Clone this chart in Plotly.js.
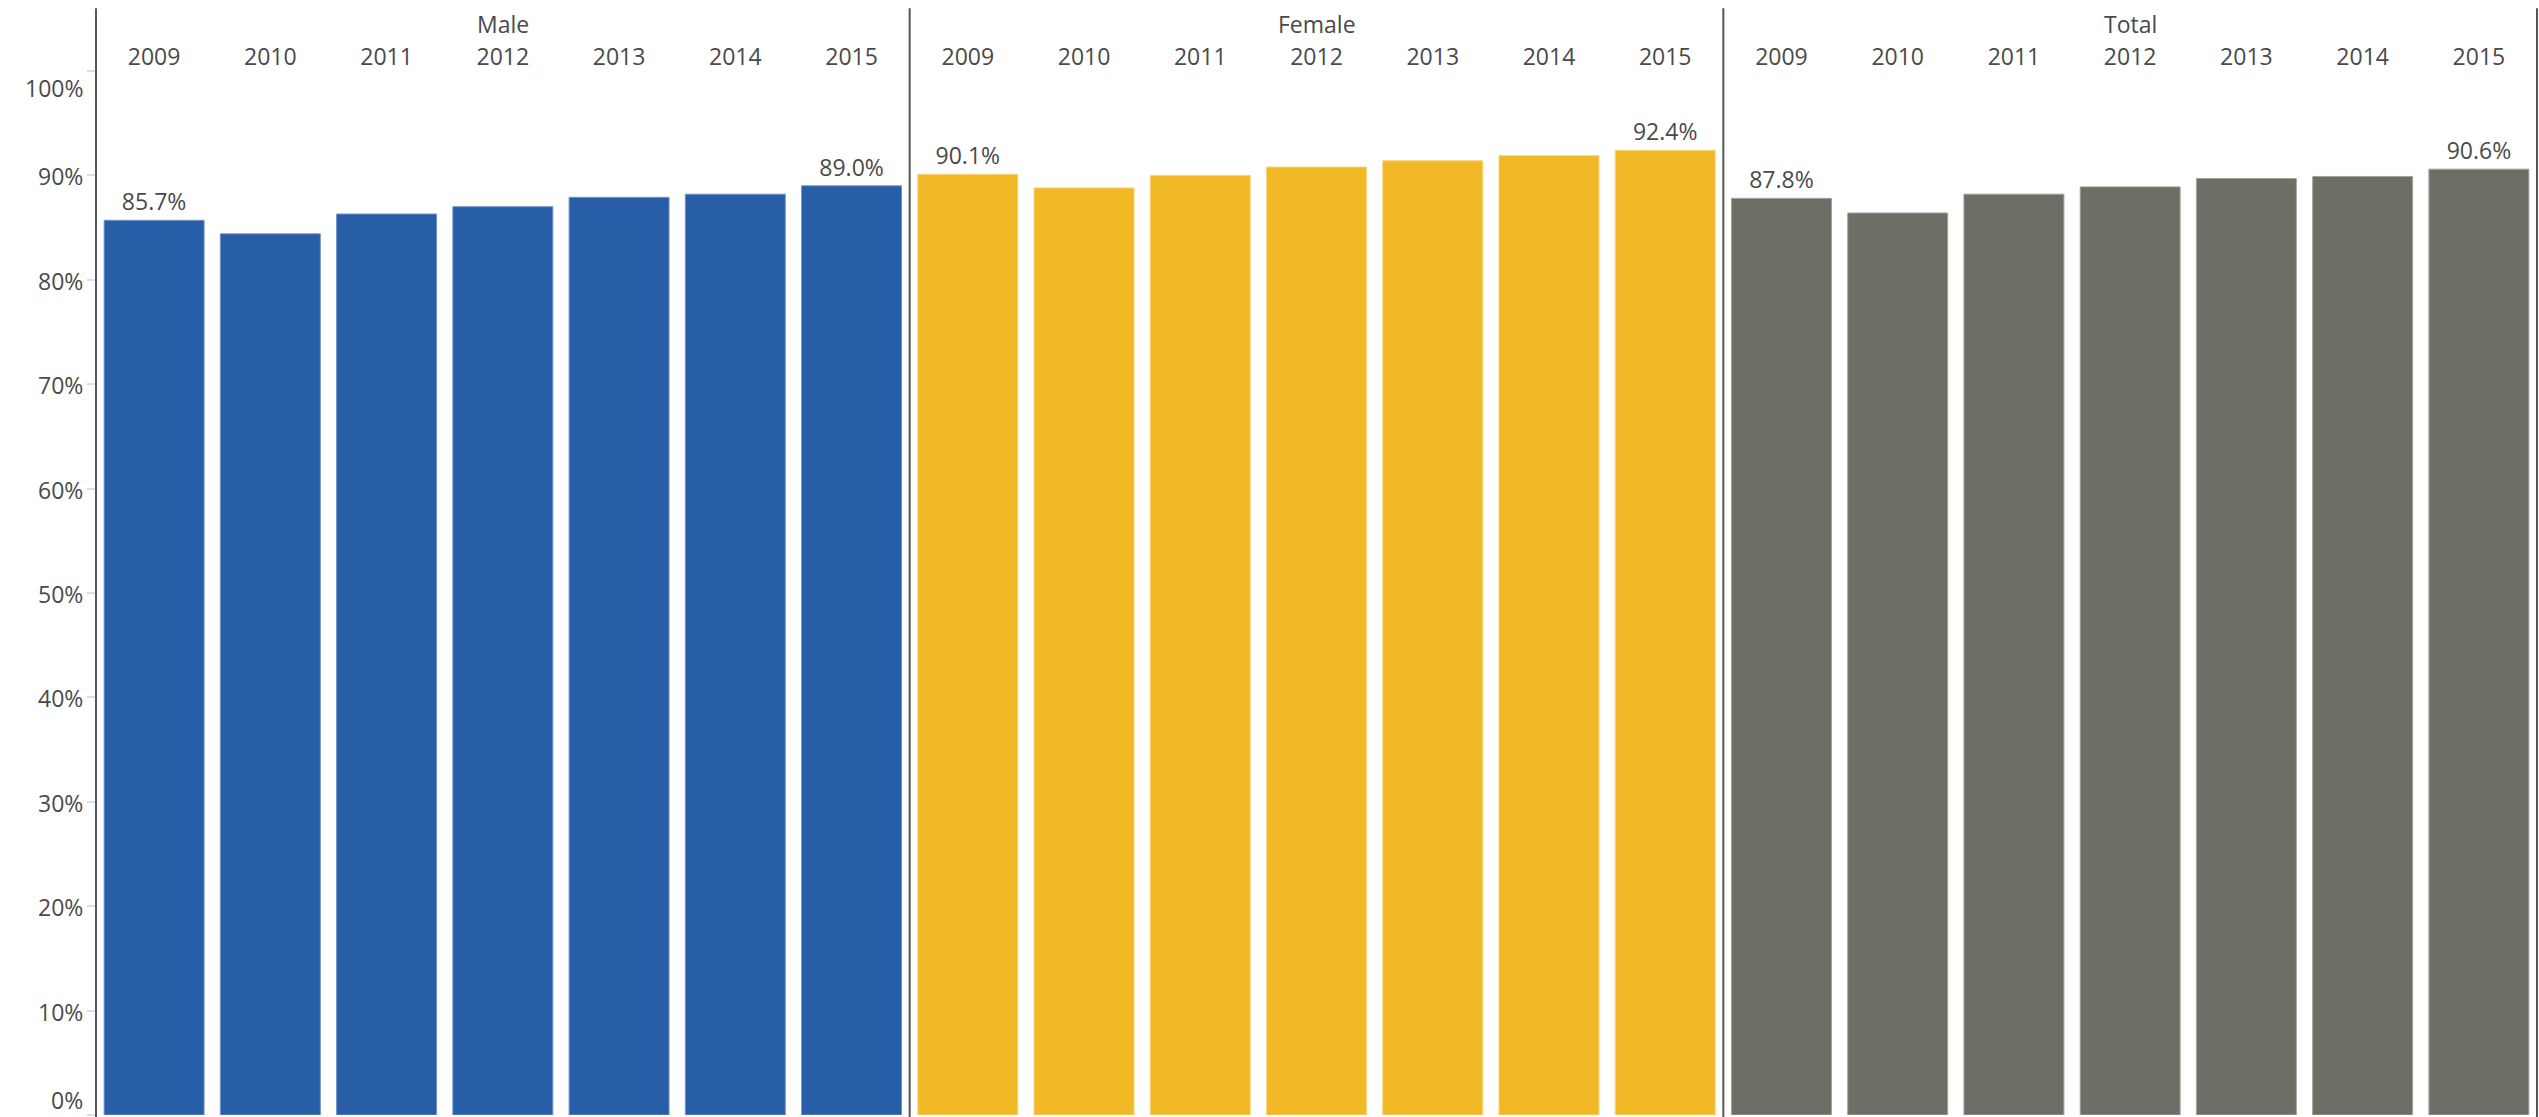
<!DOCTYPE html>
<html>
<head>
<meta charset="utf-8">
<script src="https://cdn.plot.ly/plotly-3.0.1.min.js"></script>
<style>html,body{margin:0;padding:0;background:#fff;}#chart{width:2539px;height:1117px;}</style>
</head>
<body>
<div id="chart"></div>
<script>
// ---- data ----
const years = ['2009','2010','2011','2012','2013','2014','2015'];
const groups = ['Male','Female','Total'];
const maleVals   = [0.857, 0.844, 0.863, 0.870, 0.879, 0.882, 0.890];
const femaleVals = [0.901, 0.888, 0.900, 0.908, 0.914, 0.919, 0.924];
const totalVals  = [0.878, 0.864, 0.882, 0.889, 0.897, 0.899, 0.906];
const yTickVals  = [0, 0.1, 0.2, 0.3, 0.4, 0.5, 0.6, 0.7, 0.8, 0.9, 1.0];
const yTickText  = ['0%','10%','20%','30%','40%','50%','60%','70%','80%','90%','100%'];

// ---- style ----
const FONT = 'Open Sans, DejaVu Sans, sans-serif';
const TXT = '#4a4a4a';
const colors = ['#285DA7', '#F1B926', '#6E6E66'];
const edge = ['#6f93c6', '#f7d27a', '#a3a39c'];
const series = [maleVals, femaleVals, totalVals];
const axNames = ['x', 'x2', 'x3'];

function endLabels(vals) {
  return vals.map((v, i) => (i === 0 || i === vals.length - 1) ? (v * 100).toFixed(1) + '%' : '');
}

const traces = series.map((vals, k) => ({
  type: 'bar',
  x: years,
  y: vals,
  xaxis: axNames[k],
  yaxis: 'y',
  marker: { color: colors[k], line: { color: edge[k], width: 1 } },
  text: endLabels(vals),
  textposition: 'outside',
  textfont: { family: FONT, size: 23, color: TXT },
  cliponaxis: false,
  constraintext: 'none',
  hoverinfo: 'x+y',
  showlegend: false
}));

function xAxis(domain) {
  return {
    domain: domain,
    anchor: 'y',
    type: 'category',
    side: 'top',
    showgrid: false,
    zeroline: false,
    showline: false,
    ticks: '',
    ticklabelstandoff: 0,
    tickfont: { family: FONT, size: 23, color: TXT },
    fixedrange: true
  };
}

const third = 1 / 3;
const topY = 1.06;

const shapes = [0, third, 2 * third, 1].map(xp => ({
  type: 'line', xref: 'paper', yref: 'paper',
  x0: xp, x1: xp, y0: -0.01, y1: topY,
  line: { color: '#555555', width: 2 }
}));

const annotations = groups.map((g, k) => ({
  text: g, xref: 'paper', yref: 'paper',
  x: (k + 0.5) * third, y: 1.045,
  xanchor: 'center', yanchor: 'middle', showarrow: false,
  font: { family: FONT, size: 23, color: TXT }
})).concat(yTickVals.map((v, i) => ({
  text: yTickText[i], xref: 'paper', yref: 'y',
  x: 0, y: v, xshift: -11,
  yshift: (i === 0 ? 15 : (i === yTickVals.length - 1 ? -17 : -1)),
  xanchor: 'right', yanchor: 'middle', showarrow: false,
  font: { family: FONT, size: 23, color: TXT }
})));

const layout = {
  width: 2539, height: 1117,
  margin: { l: 96, r: 2, t: 71, b: 2 },
  paper_bgcolor: '#ffffff',
  plot_bgcolor: '#ffffff',
  bargap: 0.14,
  xaxis: xAxis([0, third]),
  xaxis2: xAxis([third, 2 * third]),
  xaxis3: xAxis([2 * third, 1]),
  yaxis: {
    range: [0, 1],
    tickvals: yTickVals,
    showticklabels: false,
    ticks: 'outside', ticklen: 8, tickwidth: 2, tickcolor: '#dddddd',
    showgrid: false, zeroline: false, showline: false,
    fixedrange: true
  },
  shapes: shapes,
  annotations: annotations
};

Plotly.newPlot('chart', traces, layout, { displayModeBar: false, staticPlot: true });
</script>
</body>
</html>
